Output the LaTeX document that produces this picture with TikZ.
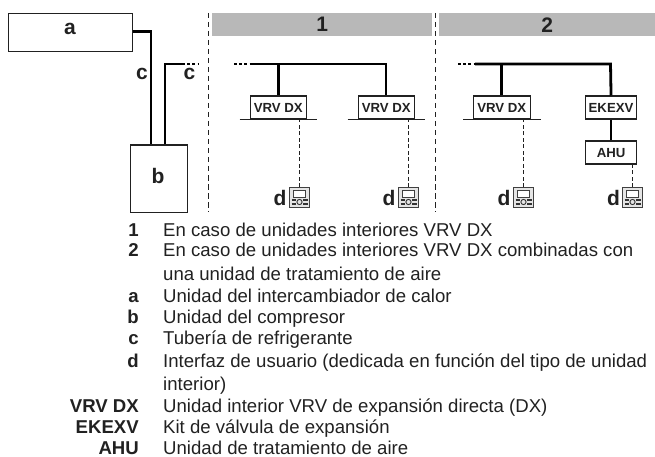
\documentclass[tikz,border=0pt]{standalone}
\usepackage{fontspec}
\setmainfont{Liberation Sans}
\usetikzlibrary{calc}
\definecolor{ink}{gray}{0.13}
\tikzset{
 x=1pt,y=-1pt,
 boxa/.style={draw=ink,line width=1.1pt,fill=white,inner sep=0,anchor=north west},
 unit/.style={draw=ink,line width=1.1pt,fill=white,inner sep=0,anchor=north west,font=\fontsize{13.2}{13.2}\selectfont\bfseries,text=ink},
 big/.style={font=\fontsize{21}{21}\selectfont\bfseries,inner sep=0,text=ink},
 head/.style={fill=black!28,inner sep=0,anchor=north west,font=\fontsize{21}{21}\selectfont\bfseries,text=ink},
 pipe/.style={line width=2.8pt,draw=black},
 thin line/.style={line width=1.1pt,draw=ink},
 dots/.style={line width=2.8pt,dash pattern=on 3pt off 2.2pt},
 ctrl/.style={line width=1.9pt,dash pattern=on 4pt off 2.5pt,draw=ink},
 sep/.style={line width=1pt,dash pattern=on 5.5pt off 3.5pt,draw=ink},
 legk/.style={font=\fontsize{18.6}{18.6}\selectfont\bfseries,inner sep=0,anchor=base east,text=ink},
 legt/.style={font=\fontsize{18.6}{18.6}\selectfont,inner sep=0,anchor=base west,text=ink},
 icon/.style={draw=black!75,fill=black!10,line width=0.9pt,minimum width=20pt,minimum height=20pt,inner sep=0},
}
\newcommand{\ctrlicon}[2]{%
 \node[icon] (#1) at (#2) {};
 \draw[black!75,line width=0.8pt,fill=white] ([shift={(-6,-7.5)}]#1.center) rectangle ([shift={(6,0)}]#1.center);
 \draw[black!80,line width=0.9pt] ([shift={(0,4.5)}]#1.center) circle[radius=2.6pt];
 \draw[black!80,line width=1.1pt] ([shift={(-8,2.5)}]#1.center) -- ([shift={(-3.5,2.5)}]#1.center)
   ([shift={(3.5,2.5)}]#1.center) -- ([shift={(8,2.5)}]#1.center)
   ([shift={(-8,6.5)}]#1.center) -- ([shift={(-3.5,6.5)}]#1.center)
   ([shift={(3.5,6.5)}]#1.center) -- ([shift={(8,6.5)}]#1.center);
}
\newcommand{\unitbox}[5]{%
 \node[unit,minimum width=#4pt,minimum height=23pt] (#1) at (#2,95.5) {#3};
 \draw[thin line] ($(#1.south west)+(-#5,0)$) -- ($(#1.south east)+(#5,0)$);
}
\begin{document}
\begin{tikzpicture}
\useasboundingbox (0,0) rectangle (655,457);
% main boxes
\node[boxa,minimum width=124pt,minimum height=38pt] (a) at (8,13) {};
\node[big] at (70,28.5) {a};
\node[boxa,minimum width=57pt,minimum height=67.5pt] (b) at (130,144.5) {};
\node[big] at (158,176) {b};
% pipes
\coordinate (p1) at (151,31.5);
\coordinate (p1b) at (151,144.5);
\draw[pipe] (a.east |- p1) -- (p1) -- (p1b);
\coordinate (p2) at (165,144.5);
\coordinate (p2t) at (165,64);
\coordinate (p2e) at (182,64);
\coordinate (p2f) at (198,64);
\draw[pipe] (p2) -- (p2t) -- (p2e);
\draw[dots] (p2e) -- (p2f);
\node[big] at (142,74) {c};
\node[big] at (189.5,74) {c};
% separators
\coordinate (s1t) at (208.5,13); \coordinate (s1b) at (208.5,212);
\coordinate (s2t) at (435,13); \coordinate (s2b) at (435,212);
\draw[sep] (s1t) -- (s1b);
\draw[sep] (s2t) -- (s2b);
% headers
\node[head,minimum width=220pt,minimum height=23pt] (h1) at (212,13) {1};
\node[head,minimum width=216pt,minimum height=23pt] (h2) at (439,13) {2};
% group 1
\unitbox{v1}{249.5}{VRV DX}{56.5}{10}
\unitbox{v2}{357.5}{VRV DX}{56.5}{10}
\coordinate (l1a) at (250,64); \coordinate (l1s) at (234,64); \coordinate (l1e) at (386,64);
\draw[dots] (l1s) -- (l1a);
\draw[pipe] (l1a) -- (l1e) -- (l1e |- v2.north);
\draw[pipe] (v1.north |- l1a) -- (v1.north);
\ctrlicon{i1}{299.5,197.5}
\ctrlicon{i2}{408.5,197.5}
\draw[ctrl] (i1.north) -- (i1.north |- v1.south);
\draw[ctrl] (i2.north) -- (i2.north |- v2.south);
\node[big] at (280,197.5) {d};
\node[big] at (389,197.5) {d};
% group 2
\unitbox{v3}{473}{VRV DX}{56.5}{10}
\node[unit,minimum width=51pt,minimum height=23pt] (e) at (585,95.5) {EKEXV};
\node[unit,minimum width=51pt,minimum height=23pt] (h) at (585,140.5) {AHU};
\coordinate (l2s) at (458,64); \coordinate (l2a) at (475,64); \coordinate (l2e) at (610.5,64);
\draw[dots] (l2s) -- (l2a);
\draw[pipe] (l2a) -- (l2e) -- (e.north);
\draw[pipe] (v3.north |- l2a) -- (v3.north);
\draw[pipe] (e) -- (h);
\ctrlicon{i3}{523.5,197.5}
\ctrlicon{i4}{632.5,197.5}
\draw[ctrl] (i3.north) -- (i3.north |- v3.south);
\draw[ctrl] (i4.north) -- (i4.north |- h.south);
\node[big] at (504,197.5) {d};
\node[big] at (613.5,197.5) {d};
% legend
\foreach \k/\t/\y in {1/En caso de unidades interiores VRV DX/236.7,
 2/En caso de unidades interiores VRV DX combinadas con/256.7,
 /una unidad de tratamiento de aire/280.7,
 a/Unidad del intercambiador de calor/302,
 b/Unidad del compresor/323,
 c/Tubería de refrigerante/344.5,
 d/Interfaz de usuario (dedicada en función del tipo de unidad/367,
 /interior)/390,
 VRV DX/Unidad interior VRV de expansión directa (DX)/412,
 EKEXV/Kit de válvula de expansión/433,
 AHU/Unidad de tratamiento de aire/454}
 {\node[legk] at (139,\y) {\k}; \node[legt] at (163,\y) {\t};}
\end{tikzpicture}
\end{document}
